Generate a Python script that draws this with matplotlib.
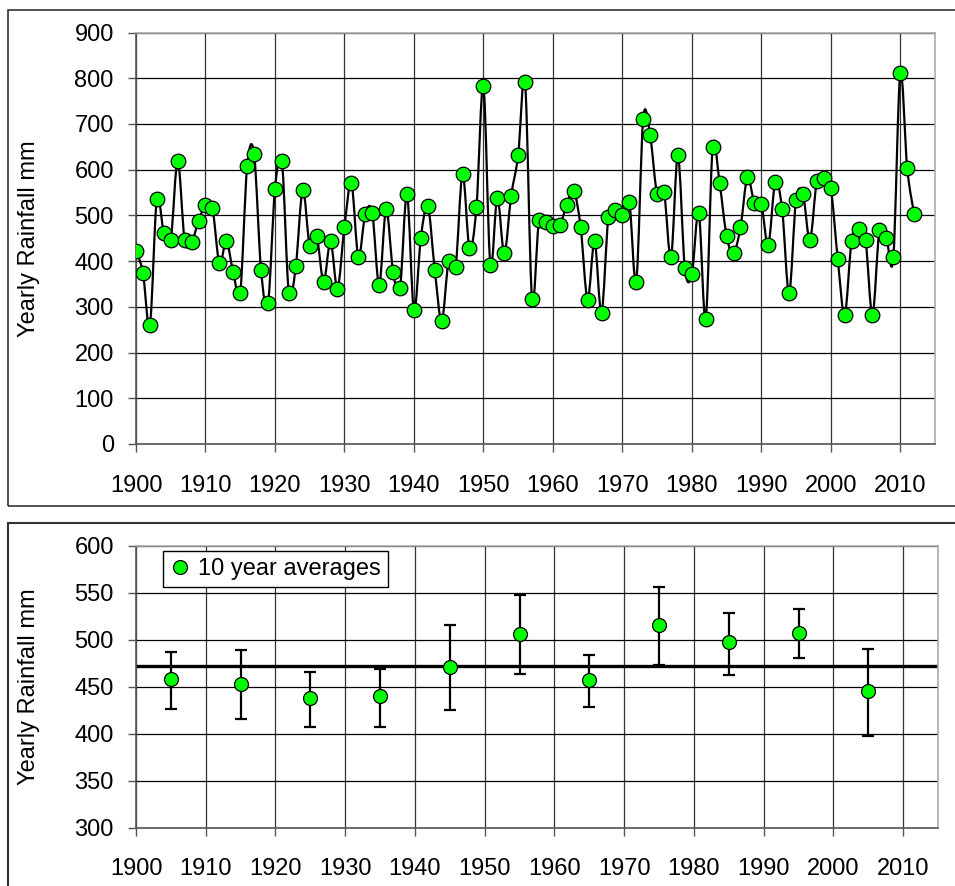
import numpy as np
import matplotlib.pyplot as plt
from matplotlib.path import Path
from matplotlib.patches import PathPatch, Rectangle

plt.rcParams['font.family'] = ['Liberation Sans', 'DejaVu Sans']

# yearly rainfall, 1900-2012
years = np.arange(1900, 2013)
rain = [422, 375, 260, 536, 462, 446, 620, 446, 441, 488,
        523, 516, 395, 443, 376, 331, 608, 634, 380, 308,
        557, 618, 330, 389, 556, 434, 455, 355, 443, 340,
        475, 571, 410, 503, 506, 348, 513, 377, 341, 546,
        292, 451, 521, 381, 269, 400, 388, 591, 428, 518,
        784, 392, 539, 417, 543, 631, 791, 317, 489, 486,
        477, 479, 523, 554, 474, 316, 443, 287, 497, 512,
        501, 530, 355, 711, 675, 546, 552, 408, 631, 384,
        371, 506, 273, 649, 570, 455, 417, 474, 583, 528,
        525, 435, 572, 513, 330, 534, 546, 446, 576, 581,
        560, 405, 282, 445, 470, 446, 282, 468, 451, 408,
        811, 603, 503]

# 10 year averages with error bar ends
dec_mid = [1905, 1915, 1925, 1935, 1945, 1955, 1965, 1975, 1985, 1995, 2005]
dec_avg = [457.8, 453.2, 437.6, 439.7, 471.3, 506.0, 456.7, 515.2, 497.2, 507.1, 445.7]
dec_hi = [487.2, 489.4, 465.6, 468.8, 515.2, 547.9, 484.0, 555.7, 528.7, 532.3, 490.4]
dec_lo = [426.6, 415.6, 407.4, 407.4, 425.5, 463.8, 428.7, 473.0, 462.8, 480.5, 397.5]
overall_mean = 471.6

green = '#00ff00'
fs = 17


def smooth_path(x, y):
    # excel style smoothed line (catmull-rom -> bezier)
    pts = np.column_stack([x, y]).astype(float)
    n = len(pts)
    verts = [pts[0]]
    codes = [Path.MOVETO]
    for i in range(n - 1):
        p0 = pts[i - 1] if i > 0 else pts[i]
        p1 = pts[i]
        p2 = pts[i + 1]
        p3 = pts[i + 2] if i + 2 < n else pts[i + 1]
        verts += [p1 + (p2 - p0) / 6, p2 - (p3 - p1) / 6, p2]
        codes += [Path.CURVE4] * 3
    return Path(verts, codes)


def style_axes(ax):
    ax.set_xlim(1900, 2015)
    ax.set_xticks(range(1900, 2011, 10))
    ax.grid(True, axis='y', color='black', lw=0.9)
    ax.grid(True, axis='x', color='#333333', lw=0.9)
    ax.set_axisbelow(True)
    for s in ['left', 'bottom']:
        ax.spines[s].set_color('#555555')
        ax.spines[s].set_linewidth(1.2)
    for s in ['top', 'right']:
        ax.spines[s].set_color('#aaaaaa')
        ax.spines[s].set_linewidth(1.2)
    ax.tick_params(axis='both', direction='out', length=6, width=1,
                   color='#555555', labelsize=fs)
    ax.tick_params(axis='y', pad=10)
    ax.tick_params(axis='x', pad=16)
    ax.set_ylabel('Yearly Rainfall mm', fontsize=fs)


fig = plt.figure(figsize=(9.55, 8.86), dpi=100)

# outer frames
W, H = 955, 886
fig.patches.append(Rectangle((8 / W, 1 - 506 / H), 1.0, 496 / H, transform=fig.transFigure,
                             fill=False, ec='#222222', lw=1.1))
fig.patches.append(Rectangle((8 / W, -0.1), 1.0, 1 - 522.7 / H + 0.1, transform=fig.transFigure,
                             fill=False, ec='#333333', lw=1.5))

ax1 = fig.add_axes([136 / W, 1 - 444 / H, 799 / W, 411.5 / H])
style_axes(ax1)
ax1.set_ylim(0, 900)
ax1.set_yticks(range(0, 901, 100))
ax1.add_patch(PathPatch(smooth_path(years, rain), fill=False, ec='black', lw=1.6, zorder=2))
ax1.plot(years, rain, 'o', ms=10.5, mfc=green, mec='black', mew=0.9, zorder=3)
ax1.yaxis.set_label_coords(-0.12, 0.5)

ax2 = fig.add_axes([136 / W, 1 - 827.7 / H, 802 / W, 282 / H])
style_axes(ax2)
ax2.set_ylim(300, 600)
ax2.set_yticks(range(300, 601, 50))
ax2.axhline(overall_mean, color='black', lw=2.4, zorder=2)
avg = np.array(dec_avg)
yerr = [avg - np.array(dec_lo), np.array(dec_hi) - avg]
ax2.errorbar(dec_mid, dec_avg, yerr=yerr, fmt='none', ecolor='black', elinewidth=1.6,
             capsize=4.5, capthick=1.6, zorder=3)
ax2.plot(dec_mid, dec_avg, 'o', ms=10, mfc=green, mec='black', mew=0.9, zorder=4,
         label='10 year averages')
ax2.yaxis.set_label_coords(-0.12, 0.5)
leg = ax2.legend(loc='upper left', bbox_to_anchor=(0.0337, 0.981), borderaxespad=0,
                 fontsize=fs, fancybox=False, framealpha=1, edgecolor='black',
                 handlelength=0.8, handletextpad=0.4, borderpad=0.3)
leg.get_frame().set_linewidth(1.0)

fig.savefig('out.png', dpi=100)
